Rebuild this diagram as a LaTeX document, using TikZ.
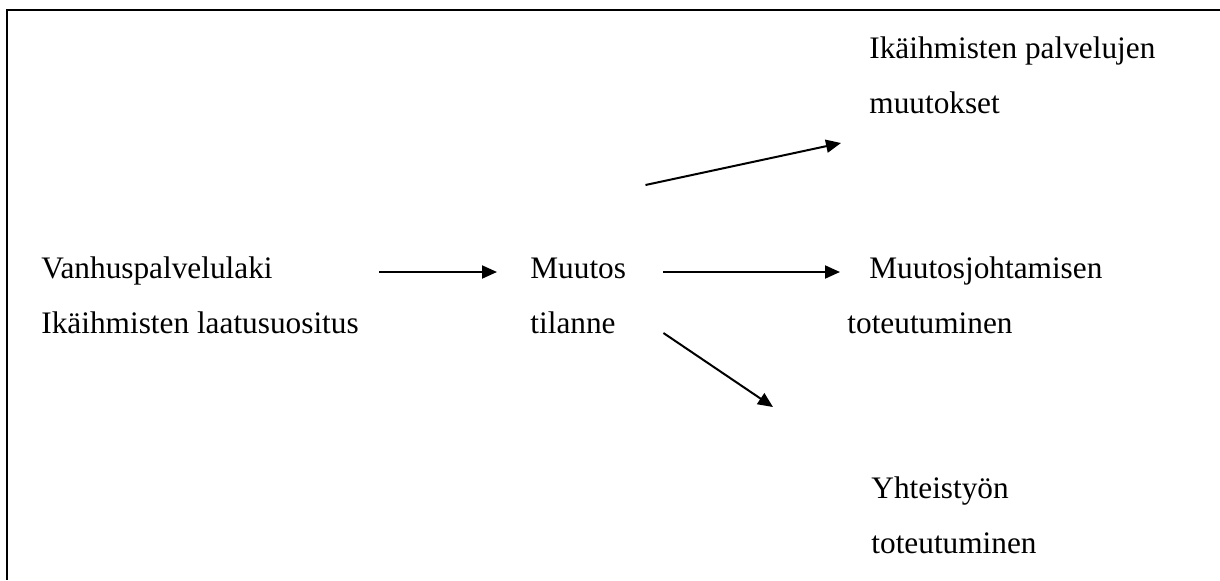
\documentclass[tikz,border=0pt]{standalone}
\usepackage{fontspec}
\setmainfont{Liberation Serif}
\usetikzlibrary{arrows.meta}
\tikzstyle{plaintext} = [anchor=base west, inner sep=0pt, align=left, font=\fontsize{15.65pt}{27.5pt}\selectfont]
\tikzstyle{arrow} = [line width=1pt, -{Triangle[length=7.5pt, width=6.5pt]}]
\tikzstyle{frame} = [line width=1pt]

\begin{document}
\begin{tikzpicture}[x=0.5pt, y=-0.5pt]
    \useasboundingbox (0,0) rectangle (1220,580);
    \draw [frame] (1220,9.5) -- (7,9.5) -- (7,580);

    % base of each text block = baseline of its last line
    \node (l-text) [plaintext] at (41,333) {Vanhuspalvelulaki\\Ikäihmisten laatusuositus};
    \node (m-text) [plaintext] at (530,333) {Muutos\\tilanne};

    \node (rt-text) [plaintext] at (869,113) {Ikäihmisten palvelujen\\muutokset};
    \node (rm-text) [plaintext] at (847,333) {\hspace*{11pt}Muutosjohtamisen\\toteutuminen};
    \node (rb-text) [plaintext] at (871,553) {Yhteistyön\\toteutuminen};

    \draw [arrow] ([shift={(20,-61)}]l-text.base east) -- ([shift={(-33,-61)}]m-text.base west);
    \draw [arrow] ([shift={(37,-61)}]m-text.base east) -- ([shift={(-7,-61)}]rm-text.base west);
    \draw [arrow] ([shift={(37,0)}]m-text.base east) -- ([shift={(-98,-146)}]rb-text.base west);
    \draw [arrow] ([shift={(19,-148)}]m-text.base east) -- ([shift={(-28,30)}]rt-text.base west);
\end{tikzpicture}
\end{document}
